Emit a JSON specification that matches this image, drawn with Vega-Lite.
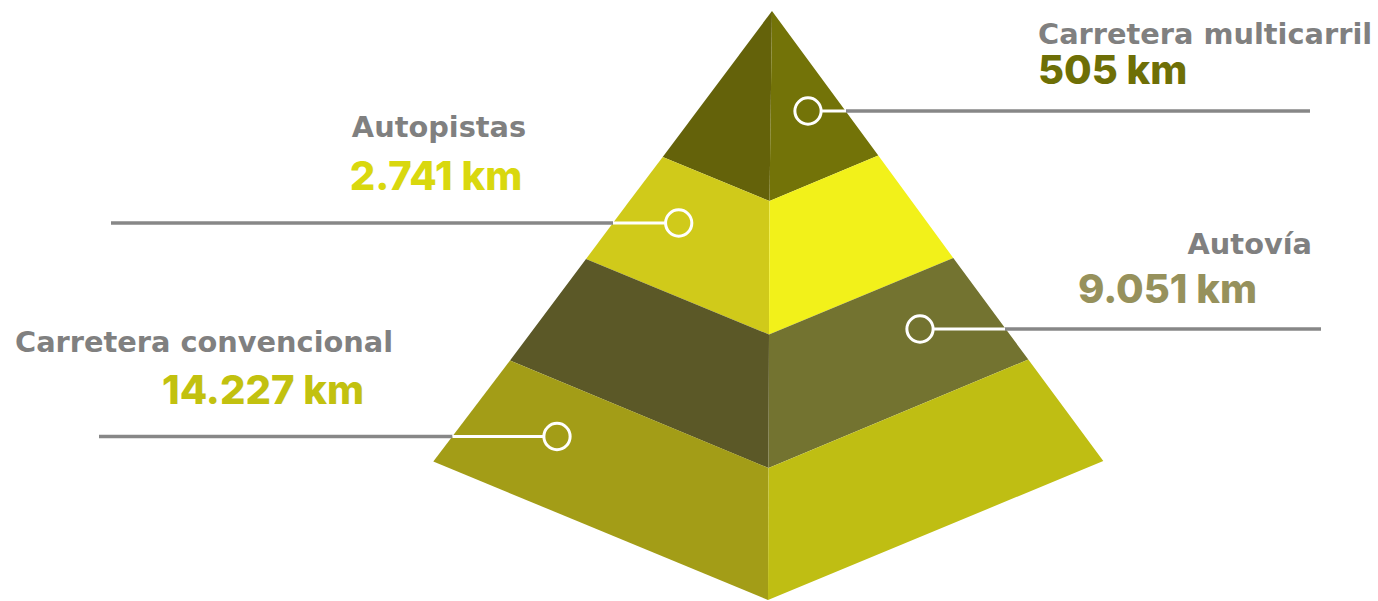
{
  "$schema": "https://vega.github.io/schema/vega-lite/v6.json",
  "width": 1378,
  "height": 601,
  "autosize": {"type": "fit", "contains": "padding"},
  "padding": 0,
  "background": "#ffffff",
  "config": {"view": {"stroke": null}},
  "datasets": {
    "faces": [
      {"face": "L1", "y": 11, "x": 772, "x2": 772},
      {"face": "L1", "y": 157, "x": 662.7, "x2": 770.1},
      {"face": "L1", "y": 201, "x": 769.5, "x2": 769.5},
      {"face": "L2", "y": 157, "x": 662.7, "x2": 662.7},
      {"face": "L2", "y": 201, "x": 629.4, "x2": 769.5},
      {"face": "L2", "y": 259, "x": 586, "x2": 769.3},
      {"face": "L2", "y": 334.5, "x": 769, "x2": 769},
      {"face": "L3", "y": 259, "x": 586, "x2": 586},
      {"face": "L3", "y": 334.5, "x": 529.5, "x2": 769},
      {"face": "L3", "y": 360.5, "x": 510, "x2": 768.9},
      {"face": "L3", "y": 468, "x": 768.5, "x2": 768.5},
      {"face": "L4", "y": 360.5, "x": 510, "x2": 510},
      {"face": "L4", "y": 461.5, "x": 433.3, "x2": 752.9},
      {"face": "L4", "y": 468, "x": 449, "x2": 768.5},
      {"face": "L4", "y": 600, "x": 768, "x2": 768},
      {"face": "R1", "y": 11, "x": 772, "x2": 772},
      {"face": "R1", "y": 155.5, "x": 770.1, "x2": 878.3},
      {"face": "R1", "y": 201, "x": 769.5, "x2": 769.5},
      {"face": "R2", "y": 155.5, "x": 878.3, "x2": 878.3},
      {"face": "R2", "y": 201, "x": 769.5, "x2": 911.6},
      {"face": "R2", "y": 258, "x": 769.3, "x2": 953.3},
      {"face": "R2", "y": 334.5, "x": 769, "x2": 769},
      {"face": "R3", "y": 258, "x": 953.3, "x2": 953.3},
      {"face": "R3", "y": 334.5, "x": 769, "x2": 1009.8},
      {"face": "R3", "y": 359.5, "x": 768.9, "x2": 1028.3},
      {"face": "R3", "y": 468, "x": 768.5, "x2": 768.5},
      {"face": "R4", "y": 359.5, "x": 1028.3, "x2": 1028.3},
      {"face": "R4", "y": 461, "x": 785.3, "x2": 1103.3},
      {"face": "R4", "y": 468, "x": 768.5, "x2": 1086.4},
      {"face": "R4", "y": 600, "x": 768, "x2": 768}
    ],
    "grayLines": [
      {"road": "Carretera multicarril", "y": 111, "x": 846, "x2": 1310},
      {"road": "Autopistas", "y": 223, "x": 111, "x2": 613},
      {"road": "Autovía", "y": 329, "x": 1005, "x2": 1321},
      {"road": "Carretera convencional", "y": 436.5, "x": 99, "x2": 452.5}
    ],
    "whiteLines": [
      {"road": "Carretera multicarril", "y": 111, "x": 821, "x2": 846},
      {"road": "Autopistas", "y": 223, "x": 613, "x2": 665.5},
      {"road": "Autovía", "y": 329, "x": 933, "x2": 1005},
      {"road": "Carretera convencional", "y": 436.5, "x": 452.5, "x2": 544}
    ],
    "circles": [
      {"road": "Carretera multicarril", "x": 808, "y": 111},
      {"road": "Autopistas", "x": 678.7, "y": 223},
      {"road": "Autovía", "x": 920, "y": 329},
      {"road": "Carretera convencional", "x": 557, "y": 436.5}
    ],
    "titles": [
      {"road": "Carretera multicarril", "label": "Carretera multicarril", "x": 1038, "y": 43.5},
      {"road": "Autopistas", "label": "Autopistas", "x": 439, "y": 137},
      {"road": "Autovía", "label": "Autovía", "x": 1312, "y": 253.5},
      {"road": "Carretera convencional", "label": "Carretera convencional", "x": 15, "y": 352}
    ],
    "values": [
      {"road": "Carretera multicarril", "label": "505 km", "km": 505, "x": 1038, "y": 84},
      {"road": "Autopistas", "label": "2.741 km", "km": 2741, "x": 436, "y": 190},
      {"road": "Autovía", "label": "9.051 km", "km": 9051, "x": 1257, "y": 303},
      {"road": "Carretera convencional", "label": "14.227 km", "km": 14227, "x": 162, "y": 404}
    ]
  },
  "layer": [
    {
      "data": {"name": "faces"},
      "mark": {"type": "area", "orient": "horizontal", "interpolate": "linear"},
      "encoding": {
        "y": {"field": "y", "type": "quantitative", "scale": {"domain": [0, 601], "reverse": true, "nice": false, "zero": false}, "axis": null},
        "x": {"field": "x", "type": "quantitative", "stack": null, "scale": {"domain": [0, 1378], "nice": false, "zero": false}, "axis": null},
        "x2": {"field": "x2"},
        "color": {"field": "face", "type": "nominal", "legend": null,
          "scale": {"domain": ["L1", "R1", "L2", "R2", "L3", "R3", "L4", "R4"],
                    "range": ["#64620a", "#737308", "#d0ca1a", "#f2f11a", "#5b5827", "#737330", "#a39d17", "#bfbe13"]}}
      }
    },
    {
      "data": {"name": "grayLines"},
      "mark": {"type": "rule", "color": "#878787", "strokeWidth": 3.5},
      "encoding": {
        "y": {"field": "y", "type": "quantitative"},
        "x": {"field": "x", "type": "quantitative"},
        "x2": {"field": "x2"}
      }
    },
    {
      "data": {"name": "whiteLines"},
      "mark": {"type": "rule", "color": "#ffffff", "strokeWidth": 3},
      "encoding": {
        "y": {"field": "y", "type": "quantitative"},
        "x": {"field": "x", "type": "quantitative"},
        "x2": {"field": "x2"}
      }
    },
    {
      "data": {"name": "circles"},
      "mark": {"type": "point", "shape": "circle", "filled": false, "stroke": "#ffffff", "strokeWidth": 3, "size": 690, "opacity": 1},
      "encoding": {
        "y": {"field": "y", "type": "quantitative"},
        "x": {"field": "x", "type": "quantitative"}
      }
    },
    {
      "data": {"name": "titles"},
      "transform": [{"filter": "datum.road === 'Carretera multicarril' || datum.road === 'Carretera convencional'"}],
      "mark": {"type": "text", "align": "left", "baseline": "alphabetic", "font": "DejaVu Sans", "fontWeight": "bold", "fontSize": 28.8, "color": "#808080"},
      "encoding": {
        "y": {"field": "y", "type": "quantitative"},
        "x": {"field": "x", "type": "quantitative"},
        "text": {"field": "label"}
      }
    },
    {
      "data": {"name": "titles"},
      "transform": [{"filter": "datum.road === 'Autopistas'"}],
      "mark": {"type": "text", "align": "center", "baseline": "alphabetic", "font": "DejaVu Sans", "fontWeight": "bold", "fontSize": 28.8, "color": "#808080"},
      "encoding": {
        "y": {"field": "y", "type": "quantitative"},
        "x": {"field": "x", "type": "quantitative"},
        "text": {"field": "label"}
      }
    },
    {
      "data": {"name": "titles"},
      "transform": [{"filter": "datum.road === 'Autovía'"}],
      "mark": {"type": "text", "align": "right", "baseline": "alphabetic", "font": "DejaVu Sans", "fontWeight": "bold", "fontSize": 28.8, "color": "#808080"},
      "encoding": {
        "y": {"field": "y", "type": "quantitative"},
        "x": {"field": "x", "type": "quantitative"},
        "text": {"field": "label"}
      }
    },
    {
      "data": {"name": "values"},
      "transform": [{"filter": "datum.road === 'Carretera multicarril' || datum.road === 'Carretera convencional'"}],
      "mark": {"type": "text", "align": "left", "baseline": "alphabetic", "font": "Inter", "fontWeight": 800, "fontSize": 40},
      "encoding": {
        "y": {"field": "y", "type": "quantitative"},
        "x": {"field": "x", "type": "quantitative"},
        "text": {"field": "label"},
        "color": {"field": "road", "type": "nominal", "legend": null,
          "scale": {"domain": ["Carretera multicarril", "Autopistas", "Autovía", "Carretera convencional"], "range": ["#6e6f06", "#d9d80e", "#96915c", "#c2c10f"]}}
      }
    },
    {
      "data": {"name": "values"},
      "transform": [{"filter": "datum.road === 'Autopistas'"}],
      "mark": {"type": "text", "align": "center", "baseline": "alphabetic", "font": "Inter", "fontWeight": 800, "fontSize": 40},
      "encoding": {
        "y": {"field": "y", "type": "quantitative"},
        "x": {"field": "x", "type": "quantitative"},
        "text": {"field": "label"},
        "color": {"field": "road", "type": "nominal", "legend": null,
          "scale": {"domain": ["Carretera multicarril", "Autopistas", "Autovía", "Carretera convencional"], "range": ["#6e6f06", "#d9d80e", "#96915c", "#c2c10f"]}}
      }
    },
    {
      "data": {"name": "values"},
      "transform": [{"filter": "datum.road === 'Autovía'"}],
      "mark": {"type": "text", "align": "right", "baseline": "alphabetic", "font": "Inter", "fontWeight": 800, "fontSize": 40},
      "encoding": {
        "y": {"field": "y", "type": "quantitative"},
        "x": {"field": "x", "type": "quantitative"},
        "text": {"field": "label"},
        "color": {"field": "road", "type": "nominal", "legend": null,
          "scale": {"domain": ["Carretera multicarril", "Autopistas", "Autovía", "Carretera convencional"], "range": ["#6e6f06", "#d9d80e", "#96915c", "#c2c10f"]}}
      }
    }
  ],
  "resolve": {"scale": {"color": "independent"}}
}
